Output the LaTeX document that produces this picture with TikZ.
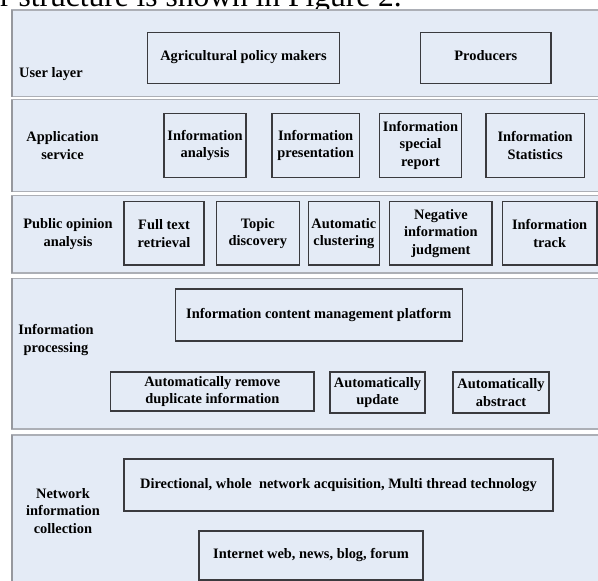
\documentclass[tikz,border=0pt]{standalone}
\usepackage{fontspec}
\setmainfont{Liberation Serif}
\definecolor{panelc}{RGB}{228,235,246}
\definecolor{edgec}{RGB}{172,175,182}
\definecolor{leftc}{RGB}{150,152,158}
\definecolor{boxc}{RGB}{58,58,62}
\tikzset{
  layerpanel/.style={fill=panelc, draw=edgec, line width=1.4pt},
  bx/.style={draw=boxc, line width=1.2pt, inner sep=0pt, align=center,
    font=\bfseries\fontsize{14.4}{17.5}\selectfont},
  lbl/.style={inner sep=0pt, align=center,
    font=\bfseries\fontsize{14.4}{17.5}\selectfont},
  toptext/.style={inner sep=0pt, anchor=base west,
    font=\fontsize{31.5}{32}\selectfont},
}
% box node by its corners: name, x1, y1, x2, y2, text
\newcommand\bxnode[6]{%
  \node[bx, minimum width={#4pt-#2pt}, minimum height={#5pt-#3pt}]
    (#1) at ({(#2+#4)/2},{(#3+#5)/2}) {#6};}
\newcommand\layerpanel[2]{%
  \path[layerpanel] (11.5,#1) rectangle (640,#2);
  \draw[leftc, line width=2.2pt] (12.3,#1) -- (12.3,#2);}
\begin{document}
\begin{tikzpicture}[x=1pt,y=-1pt]
\useasboundingbox (0,0) rectangle (598,581);
\clip (0,0) rectangle (598,581);
% cut-off caption line above the figure
\node[toptext] (cap) at (0,6.5) {r structure is shown in Figure 2.};
% layer panels
\layerpanel{10}{96.7}
\layerpanel{99.5}{191.7}
\layerpanel{195.5}{273}
\layerpanel{278.3}{429}
\layerpanel{435}{640}
% layer labels
\node[lbl, anchor=west] (l1) at (19,74) {User layer};
\node[lbl] (l2) at (62.5,145.5) {Application\\service};
\node[lbl] (l3) at (68,234) {Public opinion\\analysis};
\node[lbl] (l4) at (56,340) {Information\\processing};
\node[lbl] (l5) at (63,511) {Network\\information\\collection};
% user layer
\bxnode{agri}{147.6}{32.3}{339.4}{83.3}{\raisebox{4.5pt}{Agricultural policy makers}}
\bxnode{prod}{420.7}{32.3}{551}{83.3}{\raisebox{4.5pt}{Producers}}
% application service
\bxnode{ana}{164}{113.3}{246}{177.3}{Information\\analysis}
\bxnode{pres}{272}{113.3}{359.3}{177.3}{Information\\presentation}
\bxnode{spec}{379.5}{113.3}{461.5}{177.3}{Information\\special\\report}
\bxnode{stat}{486}{113.3}{584.3}{177.3}{Information\\Statistics}
% public opinion analysis
\bxnode{full}{124}{201.7}{204}{265}{Full text\\retrieval}
\bxnode{topic}{216.2}{201.7}{299.4}{265}{Topic\\discovery}
\bxnode{clust}{308.2}{201.7}{379.5}{265}{Automatic\\clustering}
\bxnode{neg}{389.8}{201.7}{492}{265}{Negative\\information\\judgment}
\bxnode{track}{502.3}{201.7}{597}{265}{Information\\track}
% information processing
\bxnode{icm}{175.4}{289}{462.2}{341}{Information content management platform}
\bxnode{dup}{110.6}{372}{314}{411}{Automatically remove\\duplicate information}
\bxnode{upd}{330}{372}{425}{413}{Automatically\\update}
\bxnode{abs}{453}{372}{549}{413}{Automatically\\abstract}
% network information collection
\bxnode{dir}{124}{459}{553}{511}{Directional, whole\ \ network acquisition, Multi thread technology}
\bxnode{web}{199}{531}{423}{580}{Internet web, news, blog, forum}
\end{tikzpicture}
\end{document}
